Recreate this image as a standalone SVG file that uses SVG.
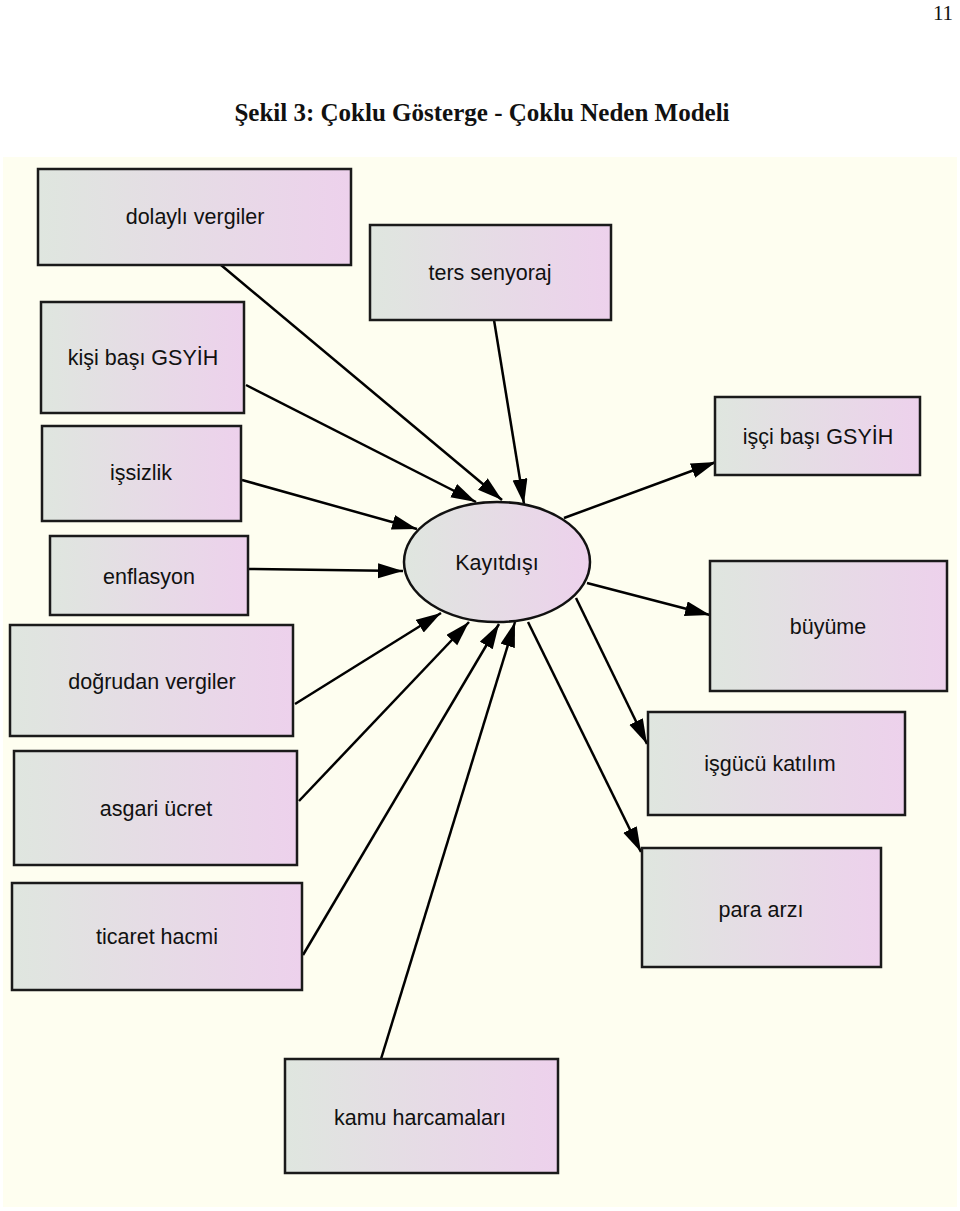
<svg xmlns="http://www.w3.org/2000/svg" width="960" height="1211" viewBox="0 0 960 1211">
<defs>
<linearGradient id="g" x1="0" y1="0" x2="1" y2="0">
<stop offset="0" stop-color="#dfe6df"/>
<stop offset="1" stop-color="#edd1ec"/>
</linearGradient>
<marker id="ah" markerUnits="userSpaceOnUse" markerWidth="26" markerHeight="16" refX="25" refY="7.5" orient="auto">
<path d="M0,0 L25,7.5 L0,15 z" fill="#000"/>
</marker>
<style>
.box{fill:url(#g);stroke:#1a1a1a;stroke-width:2.5}
.lbl{font-family:"Liberation Sans",Arial,sans-serif;font-size:21.5px;fill:#111;text-anchor:middle;dominant-baseline:central}
.c{stroke:#000;stroke-width:2.5;fill:none;marker-end:url(#ah)}
</style>
</defs>
<rect x="0" y="0" width="960" height="1211" fill="#ffffff"/>
<rect x="3" y="157" width="954" height="1050" fill="#fefef0"/>
<text x="943" y="20" font-family="Liberation Serif,serif" font-size="21" text-anchor="middle" fill="#111">11</text>
<text x="482" y="121" font-family="Liberation Serif,serif" font-size="25" font-weight="bold" text-anchor="middle" fill="#111">Şekil 3: Çoklu Gösterge - Çoklu Neden Modeli</text>
<g id="connectors">
<line class="c" x1="221" y1="265" x2="502" y2="500"/>
<line class="c" x1="494" y1="320" x2="524" y2="504"/>
<line class="c" x1="246" y1="385" x2="476" y2="502"/>
<line class="c" x1="242" y1="480" x2="417" y2="529"/>
<line class="c" x1="249" y1="569" x2="403" y2="571"/>
<line class="c" x1="295" y1="704" x2="441" y2="613"/>
<line class="c" x1="299" y1="801" x2="469" y2="622"/>
<line class="c" x1="303" y1="955" x2="499" y2="624"/>
<line class="c" x1="381" y1="1059" x2="515" y2="622"/>
<line class="c" x1="564" y1="518" x2="716" y2="462"/>
<line class="c" x1="587" y1="583" x2="710" y2="615"/>
<line class="c" x1="576" y1="598" x2="647" y2="744"/>
<line class="c" x1="528" y1="622" x2="641" y2="852"/>
</g>
<g id="kayitdisi"><ellipse cx="497" cy="562" rx="93" ry="60" fill="url(#g)" stroke="#111" stroke-width="2.5"/><text class="lbl" x="497" y="563">Kayıtdışı</text></g>
<g id="dolayli"><rect class="box" x="38" y="169" width="313" height="96"/><text class="lbl" x="195" y="217">dolaylı vergiler</text></g>
<g id="ters"><rect class="box" x="370" y="225" width="241" height="95"/><text class="lbl" x="490" y="273">ters senyoraj</text></g>
<g id="kisi"><rect class="box" x="41" y="302" width="203" height="111"/><text class="lbl" x="143" y="358">kişi başı GSYİH</text></g>
<g id="issizlik"><rect class="box" x="42" y="426" width="199" height="95"/><text class="lbl" x="141" y="473">işsizlik</text></g>
<g id="enflasyon"><rect class="box" x="50" y="536" width="198" height="79"/><text class="lbl" x="149" y="577">enflasyon</text></g>
<g id="dogrudan"><rect class="box" x="10" y="625" width="283" height="111"/><text class="lbl" x="152" y="682">doğrudan vergiler</text></g>
<g id="asgari"><rect class="box" x="14" y="751" width="283" height="114"/><text class="lbl" x="156" y="809">asgari ücret</text></g>
<g id="ticaret"><rect class="box" x="12" y="883" width="290" height="107"/><text class="lbl" x="157" y="937">ticaret hacmi</text></g>
<g id="kamu"><rect class="box" x="285" y="1059" width="273" height="114"/><text class="lbl" x="420" y="1118">kamu harcamaları</text></g>
<g id="isci"><rect class="box" x="715" y="397" width="205" height="78"/><text class="lbl" x="818" y="437">işçi başı GSYİH</text></g>
<g id="buyume"><rect class="box" x="710" y="561" width="237" height="130"/><text class="lbl" x="828" y="627">büyüme</text></g>
<g id="isgucu"><rect class="box" x="648" y="712" width="257" height="103"/><text class="lbl" x="770" y="764">işgücü katılım</text></g>
<g id="para"><rect class="box" x="642" y="848" width="239" height="119"/><text class="lbl" x="761" y="910">para arzı</text></g>
</svg>
